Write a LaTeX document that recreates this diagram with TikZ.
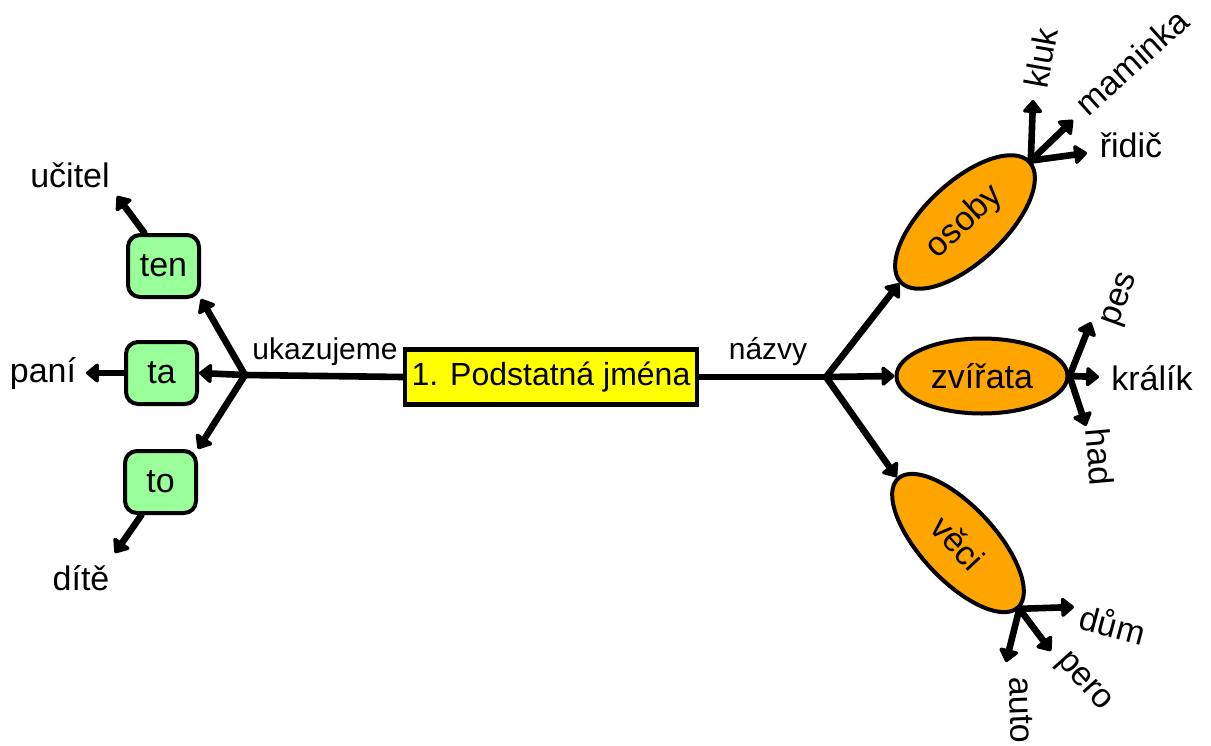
\documentclass[tikz,border=0pt]{standalone}
\usepackage{fontspec}
\setmainfont{Liberation Sans}
\usetikzlibrary{arrows.meta,shapes.geometric}
\definecolor{boxyellow}{HTML}{FFFF00}
\definecolor{boxgreen}{HTML}{99FF99}
\definecolor{ellorange}{HTML}{FFA500}
\begin{document}
\begin{tikzpicture}[x=0.5pt,y=-0.5pt,
  conn/.style={line width=3.3pt, draw=black, line cap=round},
  arr/.style={conn, -{Triangle[length=7pt,width=11pt,round]}},
  mainbox/.style={draw, line width=2.2pt, fill=boxyellow, minimum width=146pt, minimum height=27.5pt, inner sep=0pt, font=\fontsize{16}{19}\selectfont},
  gbox/.style={draw, line width=2pt, fill=boxgreen, rounded corners=6pt, minimum width=35.5pt, minimum height=31pt, inner sep=0pt, font=\fontsize{17}{20}\selectfont},
  ell/.style={ellipse, draw, line width=2pt, fill=ellorange, inner sep=0pt, font=\fontsize{17}{20}\selectfont},
  word/.style={inner sep=0pt, font=\fontsize{17}{20}\selectfont},
  lab/.style={inner sep=0pt, font=\fontsize{15}{18}\selectfont}]
\useasboundingbox (0,0) rectangle (1211,745);
% main nodes
\node[mainbox] (box) at (551,377) {1. Podstatná jména};
\coordinate (lhub) at (245,375);
\coordinate (rhub) at (826,377);
\node[gbox] (ten) at (163.5,266) {ten};
\node[gbox] (ta) at (161.5,373) {ta};
\node[gbox] (to) at (160.5,482) {to};
\node[ell, minimum width=88pt, minimum height=40pt, rotate=43] (osoby) at (965,222) {osoby};
\node[ell, minimum width=85.5pt, minimum height=37.5pt] (zvirata) at (982,376) {zvířata};
\node[ell, minimum width=88pt, minimum height=37pt, rotate=-47] (veci) at (958,543) {věci};
% edge labels
\node[lab] (ukaz) at (325,352) {ukazujeme};
\node[lab] (nazvy) at (768,352) {názvy};
% leaf words
\node[word] (ucitel) at (70,175) {učitel};
\node[word] (pani) at (43,374) {paní};
\node[word] (dite) at (81,578) {dítě};
\node[word, rotate=80] (kluk) at (1041,58) {kluk};
\node[word, rotate=42] (maminka) at (1132,62) {maminka};
\node[word] (ridic) at (1131,145) {řidič};
\node[word, rotate=70] (pes) at (1122,300) {pes};
\node[word] (kralik) at (1152,378) {králík};
\node[word, rotate=-85] (had) at (1100,457) {had};
\node[word, rotate=-15] (dum) at (1113,624) {dům};
\node[word, rotate=-48] (pero) at (1083,683) {pero};
\node[word, rotate=-88] (auto) at (1021,710) {auto};
% arrow tips
\coordinate (tU) at (117,196);
\coordinate (tP) at (86,373);
\coordinate (tD) at (115,553);
\coordinate (oK) at (1033,100);
\coordinate (oM) at (1073,120);
\coordinate (oR) at (1087,153);
\coordinate (zP) at (1091,322);
\coordinate (zK) at (1099,377);
\coordinate (zH) at (1086,426);
\coordinate (vD) at (1074,607);
\coordinate (vP) at (1051,651);
\coordinate (vA) at (1006,662);
% connectors
\draw[conn] (lhub) -- (box.west);
\draw[conn] (box.east) -- (rhub);
\draw[arr] (lhub) -- (ten.south east);
\draw[arr] (lhub) -- (ta.east);
\draw[arr] (lhub) -- (to.north east);
\draw[arr] (ten.120) -- (tU);
\draw[arr] (ta.west) -- (tP);
\draw[arr] (to.240) -- (tD);
\draw[arr] (rhub) -- (osoby.west);
\draw[arr] (rhub) -- (zvirata.west);
\draw[arr] (rhub) -- (veci.west);
\draw[arr] (osoby.east) -- (oK);
\draw[arr] (osoby.east) -- (oM);
\draw[arr] (osoby.east) -- (oR);
\draw[arr] (zvirata.east) -- (zP);
\draw[arr] (zvirata.east) -- (zK);
\draw[arr] (zvirata.east) -- (zH);
\draw[arr] (veci.east) -- (vD);
\draw[arr] (veci.east) -- (vP);
\draw[arr] (veci.east) -- (vA);
\end{tikzpicture}
\end{document}
